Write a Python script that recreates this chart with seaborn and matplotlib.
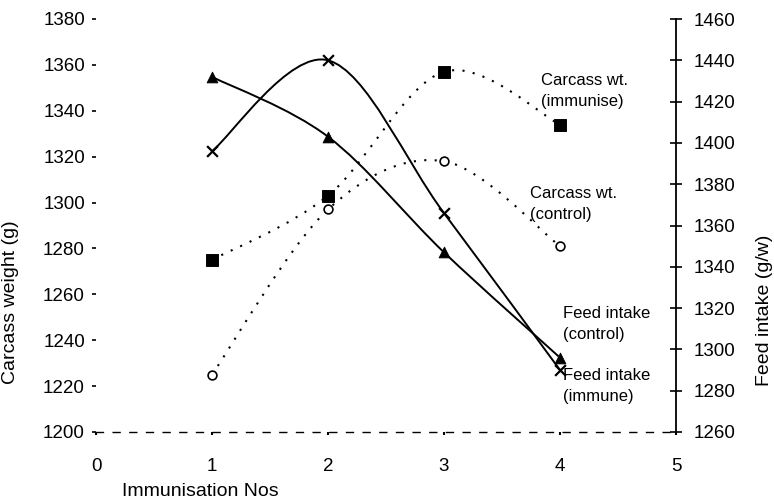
import numpy as np
import matplotlib
matplotlib.use("Agg")
import matplotlib.pyplot as plt
from matplotlib.path import Path
from matplotlib.patches import PathPatch
import seaborn as sns

# Data
immunisation = [1, 2, 3, 4]
carcass_immunised = [1275, 1303, 1357, 1334]
carcass_control = [1225, 1297, 1318, 1281]
feed_control = [1432, 1403, 1347, 1296]
feed_immune = [1396, 1440, 1366, 1290]

x_ticks = [0, 1, 2, 3, 4, 5]
left_ticks = list(range(1200, 1381, 20))
right_ticks = list(range(1260, 1461, 20))

sns.set_theme(style="white")
plt.rcParams["font.family"] = ["Liberation Sans", "DejaVu Sans"]
for key in ("text.color", "axes.labelcolor", "xtick.color", "ytick.color"):
    plt.rcParams[key] = "black"

W, H = 774, 504
fig = plt.figure(figsize=(W / 100, H / 100), dpi=100)
ax = fig.add_axes([96 / W, 1 - 432 / H, (676 - 96) / W, (432 - 19) / H])
ax2 = ax.twinx()


def smooth_path(xs, ys):
    """Smoothed curve through the points (cubic Bezier, Catmull-Rom tangents)."""
    pts = np.column_stack([xs, ys]).astype(float)
    n = len(pts)
    verts = [pts[0]]
    codes = [Path.MOVETO]
    for i in range(n - 1):
        p0 = pts[max(i - 1, 0)]
        p1 = pts[i]
        p2 = pts[i + 1]
        p3 = pts[min(i + 2, n - 1)]
        verts += [p1 + (p2 - p0) / 6, p2 - (p3 - p1) / 6, p2]
        codes += [Path.CURVE4] * 3
    return Path(verts, codes)


dotted = (0, (1, 4))
ax.add_patch(PathPatch(smooth_path(immunisation, carcass_immunised), fill=False,
                       edgecolor="black", lw=1.5, linestyle=dotted, zorder=2))
ax.add_patch(PathPatch(smooth_path(immunisation, carcass_control), fill=False,
                       edgecolor="black", lw=1.5, linestyle=dotted, zorder=2))
ax2.add_patch(PathPatch(smooth_path(immunisation, feed_control), fill=False,
                        edgecolor="black", lw=1.4, zorder=2))
ax2.add_patch(PathPatch(smooth_path(immunisation, feed_immune), fill=False,
                        edgecolor="black", lw=1.4, zorder=2))

# Markers
sns.scatterplot(x=immunisation, y=carcass_immunised, marker="s", s=70,
                color="black", edgecolor="black", ax=ax, zorder=3)
sns.scatterplot(x=immunisation, y=carcass_control, marker="o", s=40,
                facecolor="white", edgecolor="black", linewidth=1.2, ax=ax, zorder=3)
sns.scatterplot(x=immunisation, y=feed_control, marker="^", s=60,
                color="black", edgecolor="black", ax=ax2, zorder=3)
sns.scatterplot(x=immunisation, y=feed_immune, marker="x", s=60,
                color="black", linewidth=1.6, ax=ax2, zorder=3)

# Axes limits and ticks
ax.set_xlim(0, 5)
ax.set_ylim(1200, 1380)
ax2.set_ylim(1260, 1460)
ax.set_xticks(x_ticks)
ax.set_xticklabels([str(v) for v in x_ticks])
ax.set_yticks(left_ticks)
ax.set_yticklabels([str(v) for v in left_ticks])
ax2.set_yticks(right_ticks)
ax2.set_yticklabels([str(v) for v in right_ticks])

for s in ("left", "top", "right"):
    ax.spines[s].set_visible(False)
ax.spines["bottom"].set_linestyle((0, (5, 7)))
ax.spines["bottom"].set_linewidth(1.0)
ax.spines["bottom"].set_color("black")
for s in ("left", "top", "bottom"):
    ax2.spines[s].set_visible(False)
ax2.spines["right"].set_color("black")
ax2.spines["right"].set_linewidth(1.3)

ax.tick_params(axis="y", left=True, direction="out", length=3, width=1.2,
               pad=5, labelsize=13.5)
ax.tick_params(axis="x", bottom=True, direction="out", length=2, width=1.5,
               pad=17, labelsize=13.5)
ax2.tick_params(axis="y", right=True, direction="inout", length=8, width=1.2,
                pad=9, labelsize=13.5)

# Axis titles
ax.set_ylabel("Carcass weight (g)", fontsize=14, va="center")
ax.yaxis.set_label_coords(-0.1466, 0.315)
ax2.set_ylabel("Feed intake (g/w)", fontsize=14, va="center")
ax2.yaxis.set_label_coords(1.153, 0.295)
ax.set_xlabel("Immunisation Nos", fontsize=14, va="center")
ax.xaxis.set_label_coords(0.179, -0.145)

# Series labels
def label(x, y, text):
    fig.text(x / W, 1 - y / H, text, ha="left", va="center", fontsize=12,
             linespacing=1.45)

label(541, 91, "Carcass wt.\n(immunise)")
label(530, 204, "Carcass wt.\n(control)")
label(563, 324, "Feed intake\n(control)")
label(563, 386, "Feed intake\n(immune)")

fig.savefig("out.png", dpi=100)
